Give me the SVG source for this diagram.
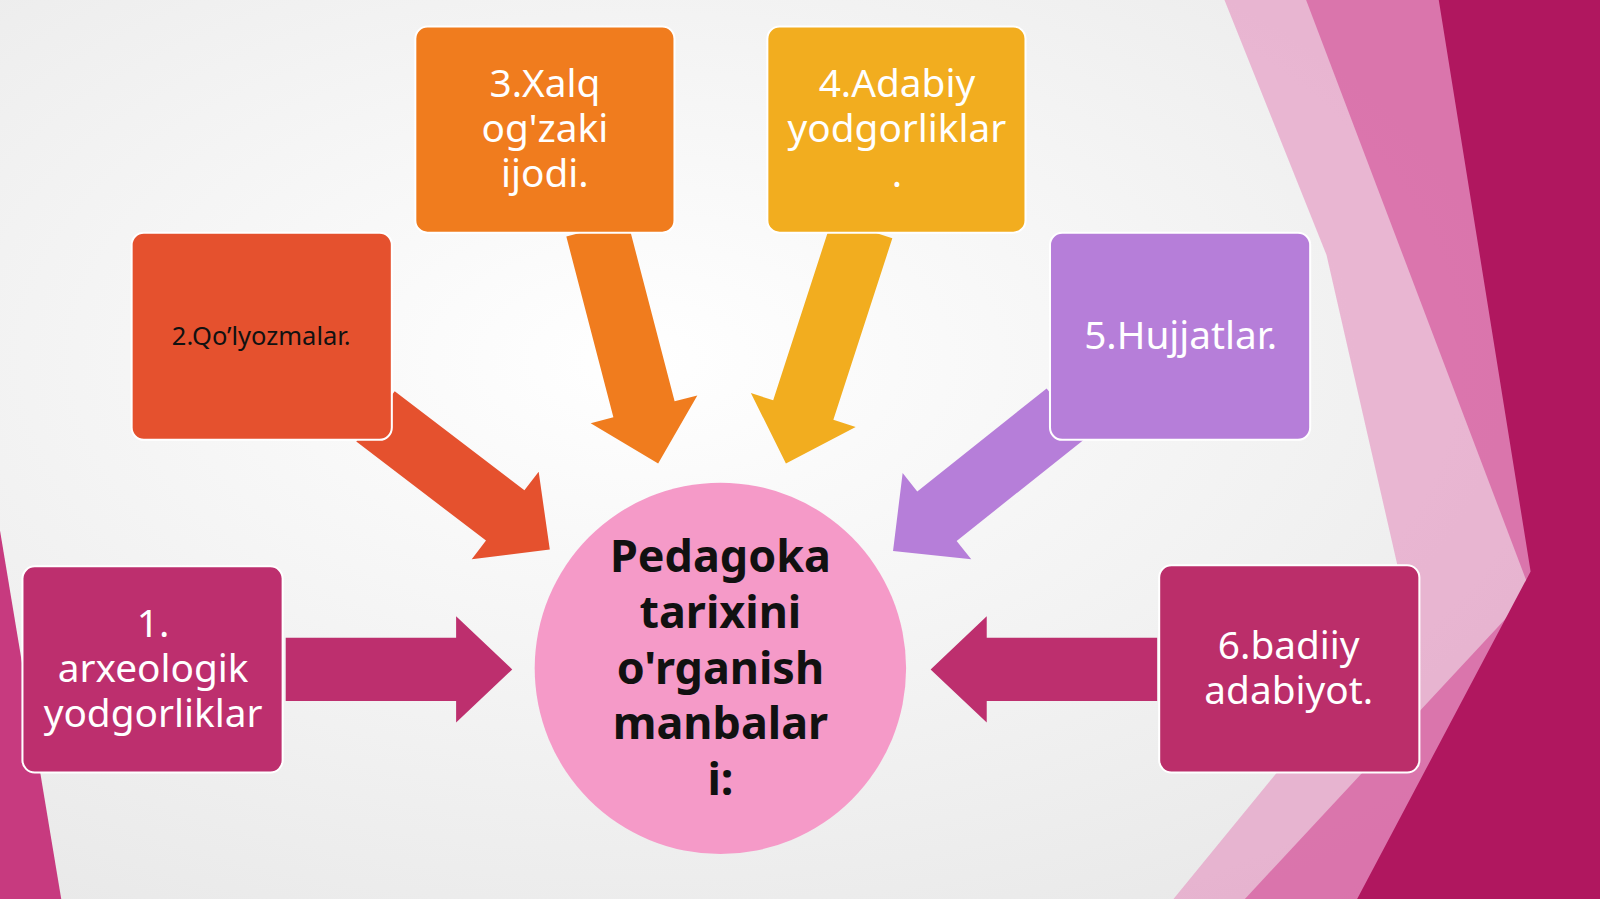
<svg xmlns="http://www.w3.org/2000/svg" width="1600" height="899" viewBox="0 0 1600 899">
<style>
.t{font-family:"Noto Sans","Open Sans",sans-serif;fill:#fff;font-size:38px;text-anchor:middle}
.b{stroke:#fff;stroke-width:2}
</style>
<defs>
<radialGradient id="bg" cx="0.4" cy="0.4" r="0.8"><stop offset="0" stop-color="#ffffff"/><stop offset="1" stop-color="#e6e6e6"/></radialGradient>
</defs>
<rect width="1600" height="899" fill="url(#bg)"/>
<g transform="scale(1.0204)">
<g id="background">
<polygon points="1200,0 1568,0 1568,881 1150,881 1380,600 1300,250" fill="#e58fbe" opacity="0.6"/>
<polygon points="1280,0 1568,0 1568,881 1220,881 1500,580" fill="#d45a9c" opacity="0.7"/>
<polygon points="1410,0 1568,0 1568,881 1330,881 1500,560" fill="#b0175f"/>
<polygon points="0,520 60,881 0,881" fill="#c73a7f"/>
</g>
<g id="connectors">
<path d="M0,-31 L167,-31 L167,-52 L222,0 L167,52 L167,31 L0,31 Z" fill="#bd2f6e" transform="translate(280,656)"/>
<path d="M0,-31 L167,-31 L167,-52 L222,0 L167,52 L167,31 L0,31 Z" fill="#bd2f6e" transform="translate(1134,656) rotate(180)"/>
<path d="M0,-31 L160,-31 L160,-54 L215,0 L160,54 L160,31 L0,31 Z" fill="#e5512e" transform="translate(368,408) rotate(37.4)"/>
<path d="M0,-31 L183,-31 L183,-54 L238,0 L183,54 L183,31 L0,31 Z" fill="#f07c1e" transform="translate(585,224) rotate(75.4)"/>
<path d="M0,-31 L187,-31 L187,-54 L242,0 L187,54 L187,31 L0,31 Z" fill="#f2ad1f" transform="translate(845,224) rotate(108)"/>
<path d="M0,-31 L162,-31 L162,-54 L217,0 L162,54 L162,31 L0,31 Z" fill="#b67ed9" transform="translate(1045,405) rotate(141.5)"/>
</g>
<g id="n1"><rect class="b" x="22" y="555" width="255" height="202" rx="12" fill="#bd2f6e"/>
<text class="t" x="150" y="624">1.</text><text class="t" x="150" y="668">arxeologik</text><text class="t" x="150" y="712">yodgorliklar</text></g>
<g id="n2"><rect class="b" x="129" y="228" width="255" height="203" rx="12" fill="#e5512e"/>
<text class="t" x="256" y="338" style="fill:#111;font-size:25px">2.Qo’lyozmalar.</text></g>
<g id="n3"><rect class="b" x="407" y="26" width="254" height="202" rx="12" fill="#f07c1e"/>
<text class="t" x="534" y="95">3.Xalq</text><text class="t" x="534" y="139">og'zaki</text><text class="t" x="534" y="183">ijodi.</text></g>
<g id="n4"><rect class="b" x="752" y="26" width="253" height="202" rx="12" fill="#f2ad1f"/>
<text class="t" x="879" y="95">4.Adabiy</text><text class="t" x="879" y="139">yodgorliklar</text><text class="t" x="879" y="183">.</text></g>
<g id="n5"><rect class="b" x="1029" y="228" width="255" height="203" rx="12" fill="#b67ed9"/>
<text class="t" x="1157" y="342">5.Hujjatlar.</text></g>
<g id="n6"><rect class="b" x="1136" y="554" width="255" height="203" rx="12" fill="#bb2e6a"/>
<text class="t" x="1263" y="646">6.badiiy</text><text class="t" x="1263" y="690">adabiyot.</text></g>
<g id="center"><circle cx="706" cy="655" r="182" fill="#f59ac8"/>
<g class="t" style="fill:#111;font-weight:bold;font-size:44px">
<text x="706" y="561">Pedagoka</text><text x="706" y="615">tarixini</text><text x="706" y="670">o'rganish</text><text x="706" y="724">manbalar</text><text x="706" y="779">i:</text></g></g>
</g>
</svg>
